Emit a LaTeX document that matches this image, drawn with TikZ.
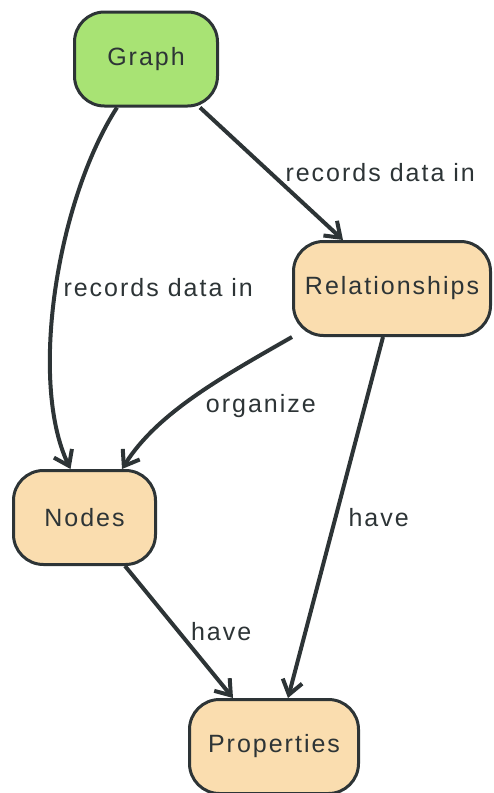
\documentclass[tikz,border=0pt]{standalone}
\usepackage{xcolor}
\usepackage{fontspec}
\setmainfont{Liberation Sans}[LetterSpace=8]
\usepackage{tikz}
\usetikzlibrary{arrows.meta, positioning, calc}

\definecolor{inkdark}{HTML}{2D3436}
\definecolor{graphgreen}{HTML}{A8E374}
\definecolor{partpeach}{HTML}{FADDAF}

\begin{document}
\begin{tikzpicture}[x=1pt, y=-1pt,
		box/.style={draw=inkdark, line width=3pt, rounded corners=30pt, inner sep=0pt,
			minimum height=94pt, text=inkdark, font=\fontsize{25}{30}\selectfont},
		link/.style={draw=inkdark, line width=4pt, -{Straight Barb[length=14pt,width=20pt]}},
		lbl/.style={anchor=west, inner sep=0pt, text=inkdark, font=\fontsize{25}{30}\selectfont}]
			
			% ----- Canvas -----
			\useasboundingbox (0,0) rectangle (493,793);
			
			% ----- Boxes -----
			\node[box, fill=graphgreen, minimum width=143pt] (graph) at (146,59) {Graph};
			\node[box, fill=partpeach, minimum width=197pt] (rel) at (392,288.5) {Relationships};
			\node[box, fill=partpeach, minimum width=142pt] (nodes) at (84.5,517.5) {Nodes};
			\node[box, fill=partpeach, minimum width=169pt] (props) at (274,746.5) {Properties};
			
			% ----- Links out of Graph -----
			\draw[link] ([xshift=-29pt]graph.south) .. controls +(-60,93) and +(-42,-87) .. ([xshift=-14pt]nodes.north)
				node[lbl, pos=0.5, xshift=6pt, yshift=3pt] {records data in};
			\draw[link] ([xshift=54pt]graph.south) -- ([xshift=-49pt]rel.north)
				node[lbl, pos=0.5, xshift=12pt, yshift=1pt] {records data in};
			
			% ----- Links out of Relationships -----
			\draw[link] (rel.south west) .. controls +(-70,40) and +(35,-56) .. ([xshift=37.5pt]nodes.north)
				node[lbl, pos=0.5, xshift=10pt, yshift=-9pt] {organize};
			\draw[link] ([xshift=-9pt]rel.south) -- ([xshift=14pt]props.north)
				node[lbl, pos=0.5, xshift=11pt] {have};
			
			% ----- Link out of Nodes -----
			\draw[link] ([xshift=40.5pt]nodes.south) -- ([xshift=-41pt]props.north)
				node[lbl, pos=0.5, xshift=10pt] {have};
			
		\end{tikzpicture}
\end{document}
